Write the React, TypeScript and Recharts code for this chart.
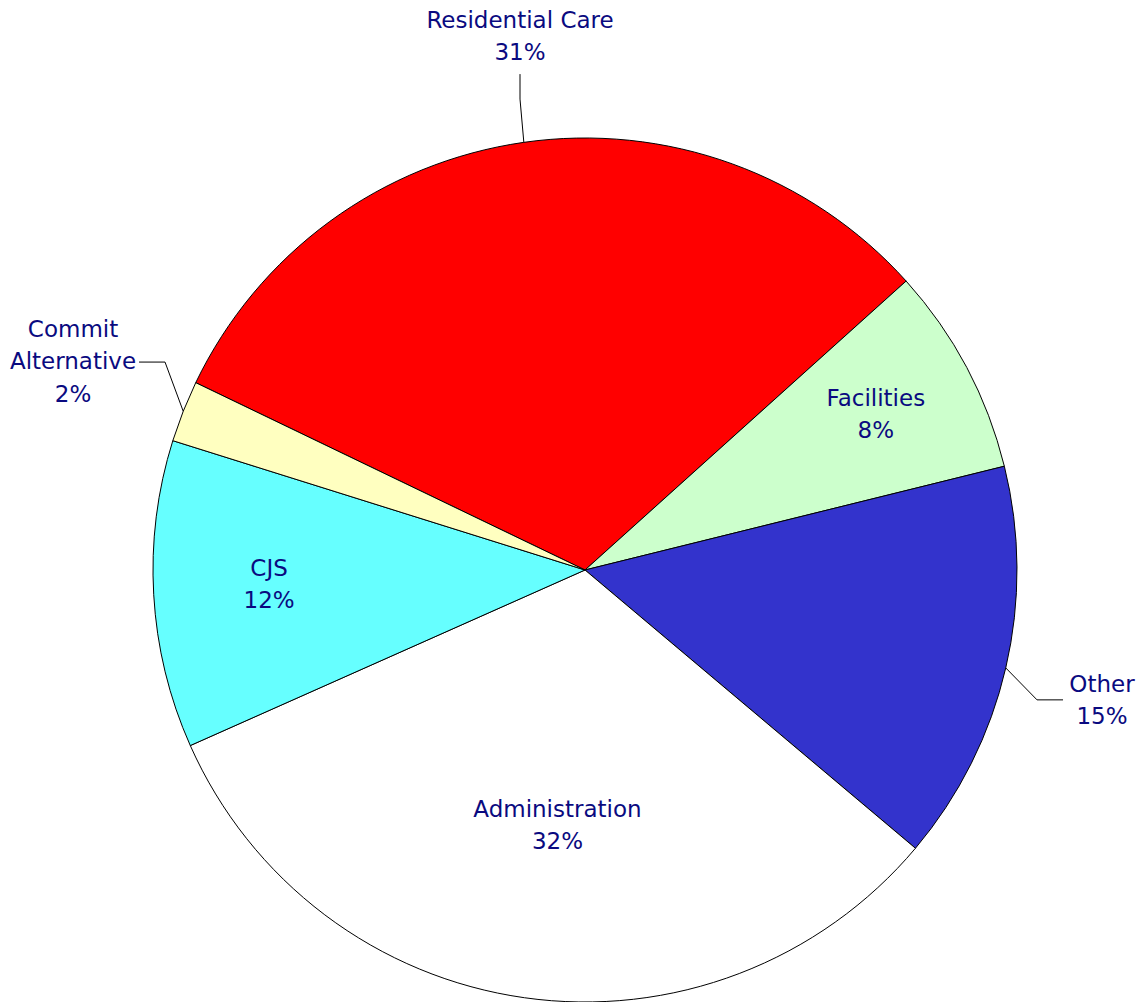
import React from 'react';
import { PieChart, Pie, Cell } from 'recharts';

const categories = ['Residential Care', 'Facilities', 'Other', 'Administration', 'CJS', 'Commit Alternative'];
const nameLines = [['Residential Care'], ['Facilities'], ['Other'], ['Administration'], ['CJS'], ['Commit', 'Alternative']];
const values = [31.2, 7.8, 15.0, 32.2, 11.5, 2.3];
const percentLabels = ['31%', '8%', '15%', '32%', '12%', '2%'];
const colors = ['#FF0000', '#CCFFCC', '#3333CC', '#FFFFFF', '#66FFFF', '#FFFFC0'];

// label placement: radius factor, angle offset from slice mid-angle, and leader style
const labelLayout = [
  { kind: 'outside', r: 1.245, a: -1.2, side: 'top', gap: 38 },
  { kind: 'inside', r: 0.764, a: 0.26 },
  { kind: 'outside', r: 1.234, a: -1.0, side: 'right', gap: 39 },
  { kind: 'inside', r: 0.594, a: 1.9 },
  { kind: 'inside', r: 0.732, a: -0.7 },
  { kind: 'outside', r: 1.28, a: -0.64, side: 'left', gap: 66 },
];

const data = categories.map((name, i) => ({ name, value: values[i] }));

const RAD = Math.PI / 180;
const FONT = '"DejaVu Sans", sans-serif';
const TEXT_COLOR = '#0A0A80';
const LINE_H = 32.5;

const polar = (cx: number, cy: number, r: number, angle: number) => ({
  x: cx + r * Math.cos(-angle * RAD),
  y: cy + r * Math.sin(-angle * RAD),
});

const renderLabel = (props: any) => {
  const { cx, cy, midAngle, outerRadius, index } = props;
  const lay = labelLayout[index];
  const lines = [...nameLines[index], percentLabels[index]];
  const c = polar(cx, cy, outerRadius * lay.r, midAngle + lay.a);
  const n = lines.length;
  const texts = lines.map((t, i) => (
    <text
      key={i}
      x={c.x}
      y={c.y + (i - (n - 1) / 2) * LINE_H}
      textAnchor="middle"
      dominantBaseline="central"
      fill={TEXT_COLOR}
      fontFamily={FONT}
      fontSize={23}
    >
      {t}
    </text>
  ));
  let leader = null;
  if (lay.kind === 'outside') {
    const s = polar(cx, cy, outerRadius, midAngle);
    let end = { x: c.x, y: c.y };
    let elbow = { x: c.x, y: c.y };
    if (lay.side === 'top') {
      end = { x: c.x, y: c.y + (lay.gap as number) };
      elbow = { x: end.x, y: end.y + 25 };
    } else if (lay.side === 'left') {
      end = { x: c.x + (lay.gap as number), y: c.y + 1 };
      elbow = { x: end.x + 26, y: end.y };
    } else {
      end = { x: c.x - (lay.gap as number), y: c.y };
      elbow = { x: end.x - 26, y: end.y };
    }
    leader = (
      <polyline
        points={`${s.x},${s.y} ${elbow.x},${elbow.y} ${end.x},${end.y}`}
        fill="none"
        stroke="#000"
        strokeWidth={1}
      />
    );
  }
  return (
    <g key={`lbl-${index}`}>
      {leader}
      {texts}
    </g>
  );
};

export default function App() {
  return (
    <div style={{ position: 'absolute', left: 0, top: 0, background: '#fff' }}>
      <PieChart width={1137} height={1002} margin={{ top: 0, right: 0, bottom: 0, left: 0 }}>
        <Pie
          data={data}
          dataKey="value"
          nameKey="name"
          cx={585}
          cy={570}
          innerRadius={0}
          outerRadius={432}
          startAngle={154.3}
          endAngle={-205.7}
          stroke="#000"
          strokeWidth={1}
          label={renderLabel}
          labelLine={false}
          isAnimationActive={false}
        >
          {data.map((d, i) => (
            <Cell key={d.name} fill={colors[i]} />
          ))}
        </Pie>
      </PieChart>
    </div>
  );
}
